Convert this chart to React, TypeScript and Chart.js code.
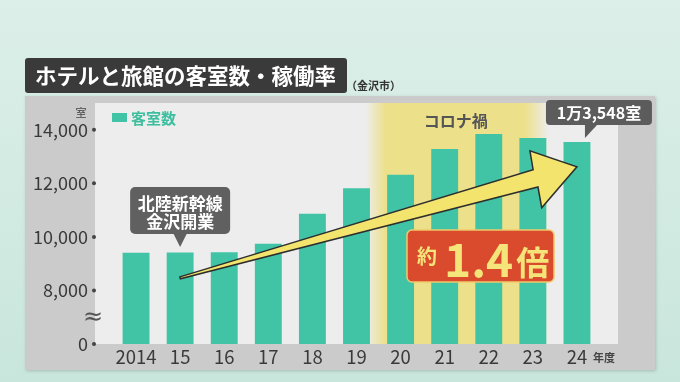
import React, { useEffect, useRef } from 'react';
import { Chart, registerables } from 'chart.js';

Chart.register(...registerables);

const years = ['2014', '15', '16', '17', '18', '19', '20', '21', '22', '23', '24'];
const rooms = [9410, 9420, 9430, 9740, 10860, 11820, 12320, 13280, 13840, 13690, 13548];
const yTickValues = [0, 8000, 10000, 12000, 14000];
const yTickLabels = ['0', '8,000', '10,000', '12,000', '14,000'];
const coronaRange = ['20', '23'];
const seriesLabel = '客室数';
const titleText = 'ホテルと旅館の客室数・稼働率';
const cityText = '（金沢市）';
const unitText = '室';
const xUnitText = '年度';
const coronaText = 'コロナ禍';
const eventYear = '15';
const eventLines = ['北陸新幹線', '金沢開業'];
const latestText = '1万3,548室';
const growthParts = ['約', '1.4', '倍'];
const arrowFrom = { year: '15', value: 8470 };
const arrowTo = { year: '24', value: 12620 };

// broken axis: 0..8000 is squeezed into one 2000-step
const BREAK_LOW = 8000;
const BREAK_SHOWN = 2000;
const toAxis = (v: number) => (v >= BREAK_LOW ? v - BREAK_LOW + BREAK_SHOWN : (v * BREAK_SHOWN) / BREAK_LOW);

const F = '"Noto Sans CJK JP", "Noto Sans", sans-serif';
const BAR = '#40c4a5';

function rbox(ctx: CanvasRenderingContext2D, x: number, y: number, w: number, h: number, r: number, fill: string) {
  ctx.beginPath();
  ctx.roundRect(x, y, w, h, r);
  ctx.fillStyle = fill;
  ctx.fill();
}

const deco = {
  id: 'deco',
  beforeDraw(chart: any) {
    const { ctx, chartArea: ca, scales } = chart;
    const x = scales.x;
    ctx.save();
    const g = ctx.createLinearGradient(0, 0, 0, 382);
    g.addColorStop(0, '#dcefe9');
    g.addColorStop(1, '#c9e6dc');
    ctx.fillStyle = g;
    ctx.fillRect(0, 0, 680, 382);
    ctx.shadowColor = 'rgba(0,0,0,0.18)';
    ctx.shadowBlur = 3;
    ctx.shadowOffsetX = 1;
    ctx.shadowOffsetY = 1;
    ctx.fillStyle = '#cbcbcb';
    ctx.fillRect(25, 96, 630, 274);
    ctx.shadowColor = 'transparent';
    ctx.fillStyle = '#ededed';
    ctx.fillRect(95, ca.top, 523, ca.bottom - ca.top);
    // corona band
    const i0 = years.indexOf(coronaRange[0]);
    const i1 = years.indexOf(coronaRange[1]);
    const a0 = x.getPixelForValue(i0) - 35;
    const a1 = x.getPixelForValue(i0) - 15;
    const b0 = x.getPixelForValue(i1) - 8;
    const b1 = x.getPixelForValue(i1) + 16;
    const bg = ctx.createLinearGradient(a0, 0, b1, 0);
    const w = b1 - a0;
    bg.addColorStop(0, 'rgba(236,224,138,0)');
    bg.addColorStop((a1 - a0) / w, 'rgba(236,224,138,1)');
    bg.addColorStop((b0 - a0) / w, 'rgba(236,224,138,1)');
    bg.addColorStop(1, 'rgba(236,224,138,0)');
    ctx.fillStyle = bg;
    ctx.fillRect(a0, ca.top, w, ca.bottom - ca.top);
    ctx.restore();
  },
  afterDraw(chart: any) {
    const { ctx, chartArea: ca, scales } = chart;
    const x = scales.x;
    const y = scales.y;
    ctx.save();
    // title
    rbox(ctx, 25, 58, 322, 35, 3, '#3a3a3a');
    ctx.fillStyle = '#ffffff';
    ctx.font = `bold 21.5px ${F}`;
    ctx.textBaseline = 'middle';
    ctx.textAlign = 'left';
    ctx.fillText(titleText, 35, 76);
    ctx.fillStyle = '#333333';
    ctx.font = `bold 11px ${F}`;
    ctx.fillText(cityText, 346, 86);
    // y unit
    ctx.fillStyle = '#444444';
    ctx.font = `11px ${F}`;
    ctx.textAlign = 'center';
    ctx.fillText(unitText, 81, 113);
    // tick dots
    ctx.fillStyle = '#444444';
    yTickValues.forEach((v) => {
      ctx.beginPath();
      ctx.arc(94, y.getPixelForValue(toAxis(v)), 2, 0, Math.PI * 2);
      ctx.fill();
    });
    // break mark
    ctx.fillStyle = '#555555';
    ctx.font = `24px "DejaVu Sans", sans-serif`;
    ctx.fillText('≈', 93, (y.getPixelForValue(toAxis(0)) + y.getPixelForValue(toAxis(8000))) / 2 + 1);
    // x unit
    ctx.fillStyle = '#444444';
    ctx.font = `bold 11px ${F}`;
    ctx.textAlign = 'left';
    ctx.fillText(xUnitText, 593, 358);
    // legend
    ctx.fillStyle = BAR;
    ctx.fillRect(112, 113, 15, 9);
    ctx.fillStyle = '#3dbf9f';
    ctx.font = `bold 15px ${F}`;
    ctx.fillText(seriesLabel, 131, 118);
    // corona label
    const i0 = years.indexOf(coronaRange[0]);
    const i1 = years.indexOf(coronaRange[1]);
    ctx.fillStyle = '#555555';
    ctx.font = `bold 16px ${F}`;
    ctx.textAlign = 'center';
    ctx.fillText(coronaText, (x.getPixelForValue(i0) + x.getPixelForValue(i1)) / 2 - 11, 121);

    // arrow
    const tx = x.getPixelForValue(years.indexOf(arrowFrom.year));
    const ty = y.getPixelForValue(toAxis(arrowFrom.value));
    const hx = x.getPixelForValue(years.indexOf(arrowTo.year));
    const hy = y.getPixelForValue(toAxis(arrowTo.value));
    const L = Math.hypot(hx - tx, hy - ty);
    const ang = Math.atan2(hy - ty, hx - tx);
    ctx.save();
    ctx.translate(tx, ty);
    ctx.rotate(ang);
    ctx.beginPath();
    ctx.moveTo(0, -1);
    ctx.lineTo(L - 43, -9);
    ctx.lineTo(L - 41, -28);
    ctx.lineTo(L, 0);
    ctx.lineTo(L - 45, 30);
    ctx.lineTo(L - 43, 9);
    ctx.lineTo(0, 1);
    ctx.closePath();
    ctx.fillStyle = '#f2e46c';
    ctx.fill();
    ctx.lineWidth = 1.5;
    ctx.strokeStyle = '#2e2e2e';
    ctx.lineJoin = 'miter';
    ctx.stroke();
    ctx.restore();

    // event callout
    const ex = x.getPixelForValue(years.indexOf(eventYear));
    rbox(ctx, ex - 50, 187, 100, 47, 5, '#606060');
    ctx.beginPath();
    ctx.moveTo(ex - 7, 233);
    ctx.lineTo(ex + 7, 233);
    ctx.lineTo(ex, 247);
    ctx.closePath();
    ctx.fill();
    ctx.fillStyle = '#ffffff';
    ctx.font = `bold 17px ${F}`;
    ctx.textAlign = 'center';
    ctx.fillText(eventLines[0], ex, 203.5);
    ctx.fillText(eventLines[1], ex, 222);

    // latest callout
    const lx = x.getPixelForValue(years.length - 1);
    rbox(ctx, lx - 31, 100, 106, 25, 4, '#5c5c5c');
    ctx.beginPath();
    ctx.moveTo(lx + 8, 124);
    ctx.lineTo(lx + 21, 124);
    ctx.lineTo(lx + 8, 138);
    ctx.closePath();
    ctx.fill();
    ctx.fillStyle = '#ffffff';
    ctx.font = `bold 16px ${F}`;
    ctx.fillText(latestText, lx + 22, 113);

    // growth box
    ctx.beginPath();
    ctx.roundRect(407, 230, 147, 52, 5);
    ctx.fillStyle = '#da4a2c';
    ctx.fill();
    ctx.lineWidth = 1.5;
    ctx.strokeStyle = '#efc96a';
    ctx.stroke();
    ctx.fillStyle = '#f5e47a';
    ctx.textAlign = 'left';
    ctx.textBaseline = 'alphabetic';
    ctx.font = `bold 20px ${F}`;
    ctx.fillText(growthParts[0], 417, 264);
    ctx.font = `bold 46px ${F}`;
    ctx.fillText(growthParts[1], 444, 277);
    const w1 = ctx.measureText(growthParts[1]).width;
    ctx.font = `bold 33px ${F}`;
    ctx.fillText(growthParts[2], 444 + w1 + 3, 275);
    ctx.restore();
  },
};

export default function App() {
  const ref = useRef<HTMLCanvasElement>(null);
  useEffect(() => {
    if (!ref.current) return;
    const chart = new Chart(ref.current, {
      type: 'bar',
      data: {
        labels: years,
        datasets: [
          {
            label: seriesLabel,
            data: rooms.map(toAxis),
            backgroundColor: BAR,
            borderWidth: 0,
            barPercentage: 0.61,
            categoryPercentage: 1,
          },
        ],
      },
      options: {
        responsive: false,
        animation: false,
        devicePixelRatio: 1,
        layout: { padding: { left: 0, right: 81, top: 103, bottom: 12 } },
        plugins: { legend: { display: false }, tooltip: { enabled: false } },
        scales: {
          x: {
            grid: { display: false, drawTicks: false },
            border: { display: false },
            ticks: { color: '#3a3a3a', font: { family: F, size: 18.5 }, padding: 2, maxRotation: 0, autoSkip: false },
            afterFit: (s: any) => { s.height = 26; },
          },
          y: {
            min: 0,
            max: 9000,
            grid: { display: false, drawTicks: false },
            border: { display: false },
            afterBuildTicks: (s: any) => { s.ticks = yTickValues.map((v) => ({ value: toAxis(v) })); },
            afterFit: (s: any) => { s.width = 114; },
            ticks: {
              color: '#3a3a3a',
              font: { family: F, size: 18 },
              padding: 26,
              callback: (val: any) => {
                const i = yTickValues.findIndex((v) => toAxis(v) === val);
                return i >= 0 ? yTickLabels[i] : '';
              },
            },
          },
        },
      },
      plugins: [deco],
    });
    return () => chart.destroy();
  }, []);
  return (
    <div style={{ position: 'fixed', left: 0, top: 0, width: 680, height: 382 }}>
      <canvas ref={ref} width={680} height={382} />
    </div>
  );
}
